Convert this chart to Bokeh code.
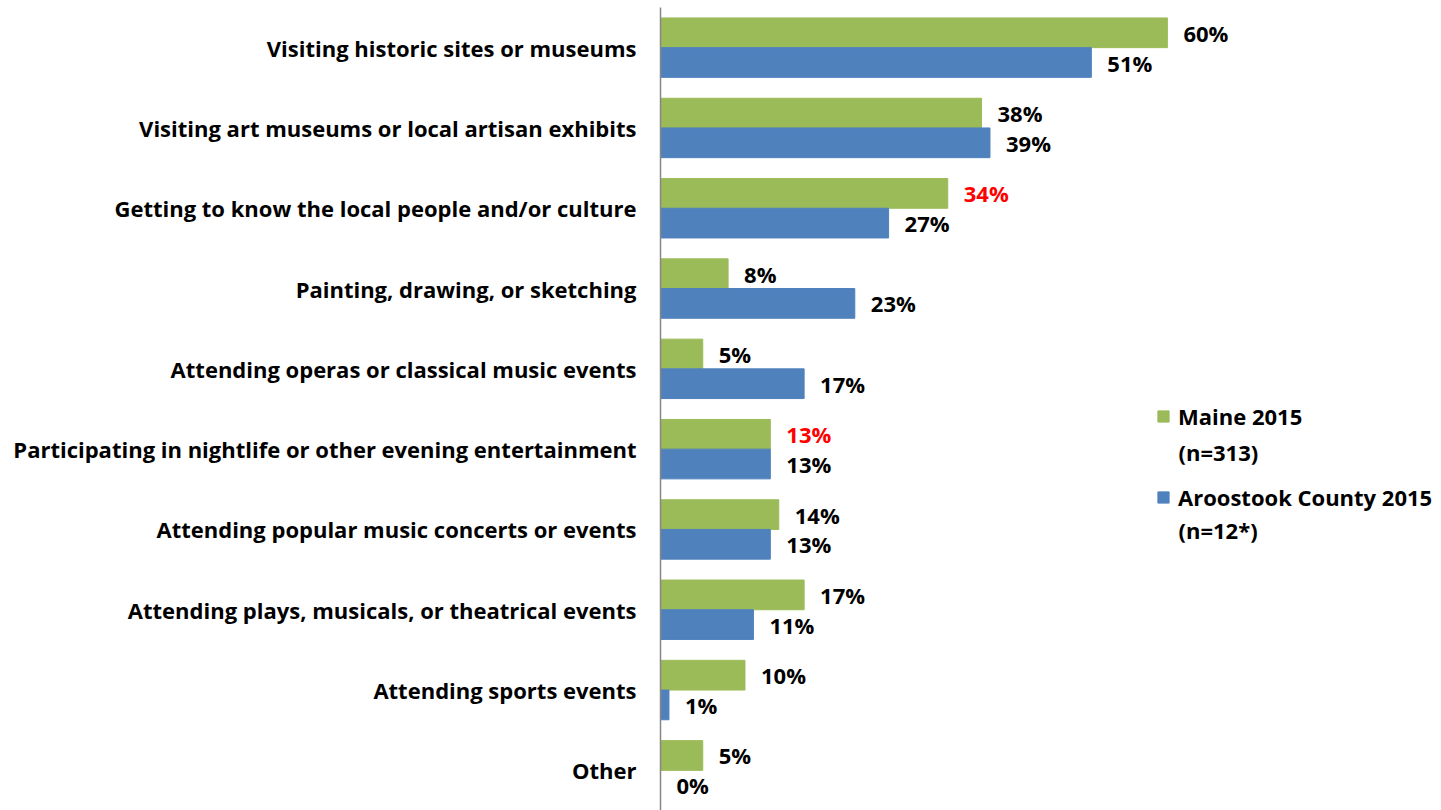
from bokeh.plotting import figure
from bokeh.models import ColumnDataSource, FactorRange, Range1d, Legend, LegendItem, Label
from bokeh.transform import dodge
from bokeh.core.properties import value
from bokeh.embed import file_html
from bokeh.resources import INLINE

categories = [
    "Visiting historic sites or museums",
    "Visiting art museums or local artisan exhibits",
    "Getting to know the local people and/or culture",
    "Painting, drawing, or sketching",
    "Attending operas or classical music events",
    "Participating in nightlife or other evening entertainment",
    "Attending popular music concerts or events",
    "Attending plays, musicals, or theatrical events",
    "Attending sports events",
    "Other",
]
maine_2015 = [60, 38, 34, 8, 5, 13, 14, 17, 10, 5]
aroostook_2015 = [51, 39, 27, 23, 17, 13, 13, 11, 1, 0]
maine_label_colors = ["red" if i in (2, 5) else "black" for i in range(10)]
aroostook_label_colors = ["black"] * 10
series_names = ["Maine 2015", "Aroostook County 2015"]
series_sizes = ["(n=313)", "(n=12*)"]

GREEN = "#9BBB59"
BLUE = "#4F81BD"
FONT = "Open Sans"
FS = "22px"

src = ColumnDataSource(dict(
    cat=categories,
    maine=maine_2015,
    aroo=aroostook_2015,
    maine_txt=[f"{v}%" for v in maine_2015],
    aroo_txt=[f"{v}%" for v in aroostook_2015],
    maine_col=maine_label_colors,
    aroo_col=aroostook_label_colors,
))

p = figure(
    width=1433, height=810,
    y_range=FactorRange(factors=list(reversed(categories))),
    x_range=Range1d(0, 91.5),
    output_backend="svg", toolbar_location=None,
    min_border_left=660, min_border_right=0, min_border_top=7, min_border_bottom=0,
)

off = 0.185
h = 0.37
r1 = p.hbar(y=dodge("cat", off, range=p.y_range), right="maine", left=0, height=h,
            source=src, fill_color=GREEN, line_color=GREEN)
r2 = p.hbar(y=dodge("cat", -off, range=p.y_range), right="aroo", left=0, height=h,
            source=src, fill_color=BLUE, line_color=BLUE)

p.text(x="maine", y=dodge("cat", off, range=p.y_range), text="maine_txt", source=src,
       x_offset=16, text_align="left", text_baseline="middle",
       text_font=value(FONT), text_font_style="bold", text_font_size=FS, text_color="maine_col")
p.text(x="aroo", y=dodge("cat", -off, range=p.y_range), text="aroo_txt", source=src,
       x_offset=16, text_align="left", text_baseline="middle",
       text_font=value(FONT), text_font_style="bold", text_font_size=FS, text_color="aroo_col")

p.xaxis.visible = False
p.xgrid.visible = False
p.ygrid.visible = False
p.outline_line_color = None

ax = p.yaxis[0]
ax.axis_line_color = "#868686"
ax.axis_line_width = 1.5
ax.major_tick_line_color = None
ax.minor_tick_line_color = None
ax.major_label_text_font = FONT
ax.major_label_text_font_style = "bold"
ax.major_label_text_font_size = FS
ax.major_label_text_color = "black"
ax.major_label_standoff = 18

legend = Legend(
    items=[LegendItem(label=series_names[0], renderers=[r1]),
           LegendItem(label=series_names[1], renderers=[r2])],
    location=(496, 298), padding=0, margin=0,
    border_line_color=None, background_fill_alpha=0,
    label_text_font=FONT, label_text_font_style="bold", label_text_font_size=FS,
    label_text_color="black",
    glyph_width=14, glyph_height=14, spacing=51, label_standoff=8,
)
p.add_layout(legend, "center")

for txt, sy in zip(series_sizes, [359, 281]):
    p.add_layout(Label(x=518, y=sy, x_units="screen", y_units="screen", text=txt,
                       text_font=FONT, text_font_style="bold", text_font_size=FS,
                       text_color="black", text_baseline="middle"))

open("out.html", "w").write(file_html(p, INLINE))
